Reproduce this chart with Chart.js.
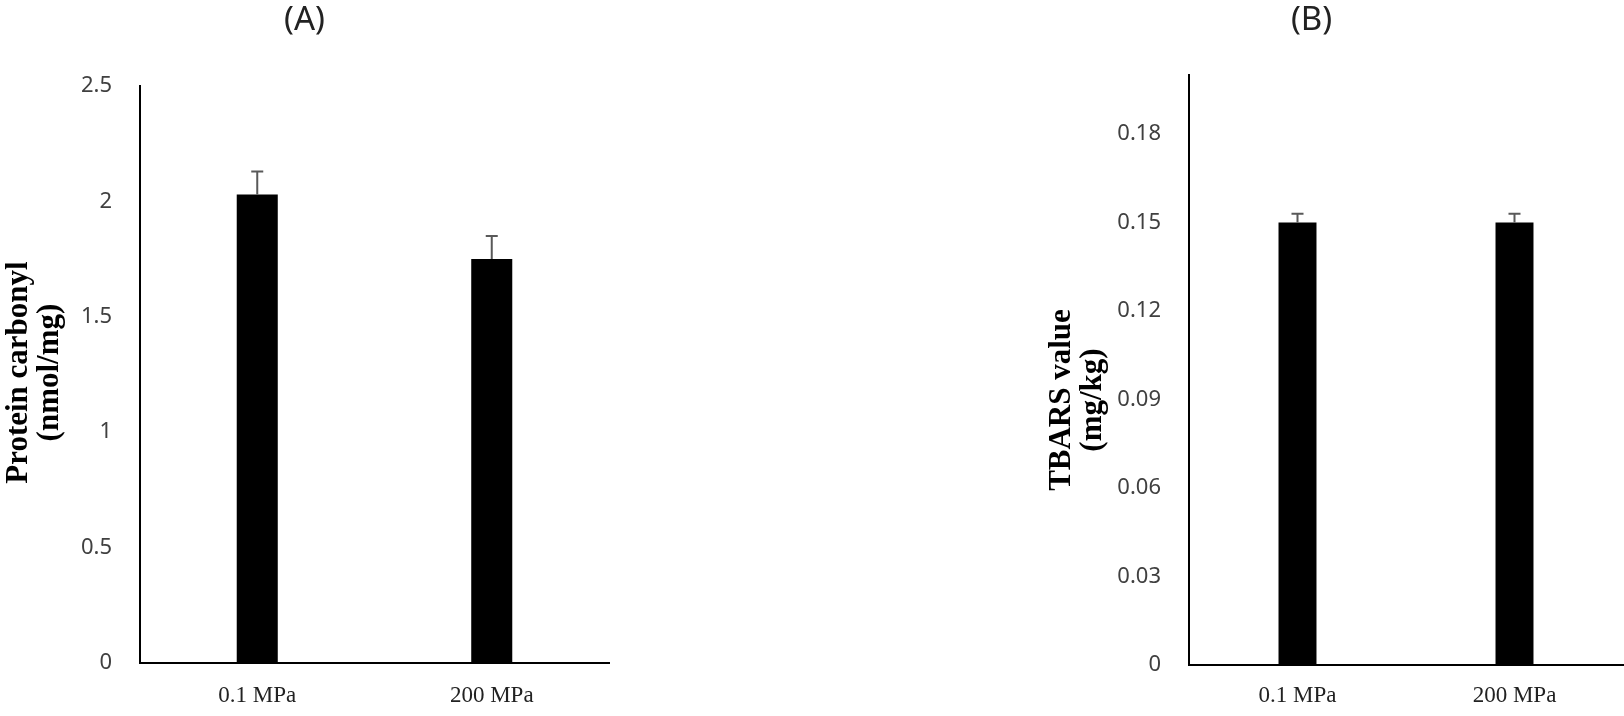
<!DOCTYPE html>
<html>
<head>
<meta charset="utf-8">
<script src="https://cdn.jsdelivr.net/npm/chart.js@4/dist/chart.umd.min.js"></script>
<style>
  html, body { margin: 0; padding: 0; background: #fff; }
  #wrap { position: relative; width: 1624px; height: 716px; overflow: hidden; }
  canvas { position: absolute; top: 0; }
  #chartA { left: 0; }
  #chartB { left: 1000px; }
</style>
</head>
<body>
<div id="wrap">
  <canvas id="chartA" width="620" height="716"></canvas>
  <canvas id="chartB" width="624" height="716"></canvas>
</div>
<script>
const categories = ["0.1 MPa", "200 MPa"];

// (A) protein carbonyl, nmol/mg
const carbonylValues = [2.03, 1.75];
const carbonylErrors = [0.10, 0.10];
const carbonylTicks = [0, 0.5, 1, 1.5, 2, 2.5];

// (B) TBARS, mg/kg
const tbarsValues = [0.150, 0.150];
const tbarsErrors = [0.003, 0.003];
const tbarsTicks = [0, 0.03, 0.06, 0.09, 0.12, 0.15, 0.18];

// draws the upper half of each error bar with a small cap
const errorBars = {
    id: "errorBars",
    afterDatasetsDraw(chart) {
        const ds = chart.data.datasets[0];
        const meta = chart.getDatasetMeta(0);
        const yScale = chart.scales.y;
        const ctx = chart.ctx;
        ctx.save();
        ctx.strokeStyle = "#595959";
        ctx.lineWidth = 2;
        meta.data.forEach((bar, i) => {
            const top = yScale.getPixelForValue(ds.data[i] + ds.errors[i]);
            ctx.beginPath();
            ctx.moveTo(bar.x, bar.y);
            ctx.lineTo(bar.x, top);
            ctx.moveTo(bar.x - 6, top);
            ctx.lineTo(bar.x + 6, top);
            ctx.stroke();
        });
        ctx.restore();
    }
};

// rotated two-line y axis title
function axisTitle(lines, xs, dy) {
    return {
        id: "axisTitle",
        afterDraw(chart) {
            const { ctx, chartArea } = chart;
            const cy = (chartArea.top + chartArea.bottom) / 2 + dy;
            ctx.save();
            ctx.fillStyle = "#000";
            ctx.font = "bold 31px 'Liberation Serif'";
            ctx.textAlign = "center";
            ctx.textBaseline = "middle";
            lines.forEach((line, i) => {
                ctx.save();
                ctx.translate(xs[i], cy);
                ctx.rotate(-Math.PI / 2);
                ctx.fillText(line, 0, 0);
                ctx.restore();
            });
            ctx.restore();
        }
    };
}

function criarGrafico(id, p) {
    return new Chart(document.getElementById(id), {
        type: "bar",
        data: {
            labels: categories,
            datasets: [{
                data: p.values,
                errors: p.errors,
                backgroundColor: "#000",
                barPercentage: 0.175,
                categoryPercentage: 1.0
            }]
        },
        options: {
            responsive: false,
            animation: false,
            layout: { padding: { left: 0, right: p.padRight, top: 0, bottom: 0 } },
            plugins: {
                legend: { display: false },
                tooltip: { enabled: false },
                title: {
                    display: true,
                    text: p.title,
                    color: "#222",
                    font: { family: "Noto Sans", size: 33, weight: "normal", lineHeight: 1.2 },
                    padding: { top: 1.2, bottom: p.titleGap }
                }
            },
            scales: {
                x: {
                    afterFit: s => { s.height = p.xHeight; },
                    grid: { display: false, drawTicks: false },
                    border: { display: true, color: "#000", width: 2 },
                    ticks: {
                        padding: p.xPad,
                        color: "#222",
                        font: { family: "Liberation Serif", size: 23 }
                    }
                },
                y: {
                    min: 0,
                    max: p.max,
                    afterBuildTicks: s => { s.ticks = p.ticks.map(v => ({ value: v })); },
                    afterFit: s => { s.width = p.yWidth; },
                    grid: { display: false, drawTicks: false },
                    border: { display: true, color: "#000", width: 2 },
                    ticks: {
                        padding: 28,
                        color: "#404040",
                        font: { family: "Noto Sans", size: 22 },
                        callback: v => String(v)
                    }
                }
            }
        },
        plugins: [errorBars, axisTitle(p.axisLines, p.axisX, p.axisDy)]
    });
}

criarGrafico("chartA", {
    title: "(A)",
    values: carbonylValues,
    errors: carbonylErrors,
    ticks: carbonylTicks,
    max: 2.5,
    padRight: 11,
    titleGap: 45.2,
    xHeight: 53,
    xPad: 19,
    yWidth: 140,
    axisLines: ["Protein carbonyl", "(nmol/mg)"],
    axisX: [19, 50],
    axisDy: -2
});

criarGrafico("chartB", {
    title: "(B)",
    values: tbarsValues,
    errors: tbarsErrors,
    ticks: tbarsTicks,
    max: 0.2,
    padRight: 1,
    titleGap: 34.2,
    xHeight: 51,
    xPad: 17,
    yWidth: 189,
    axisLines: ["TBARS value", "(mg/kg)"],
    axisX: [62, 93],
    axisDy: 30
});
</script>
</body>
</html>
